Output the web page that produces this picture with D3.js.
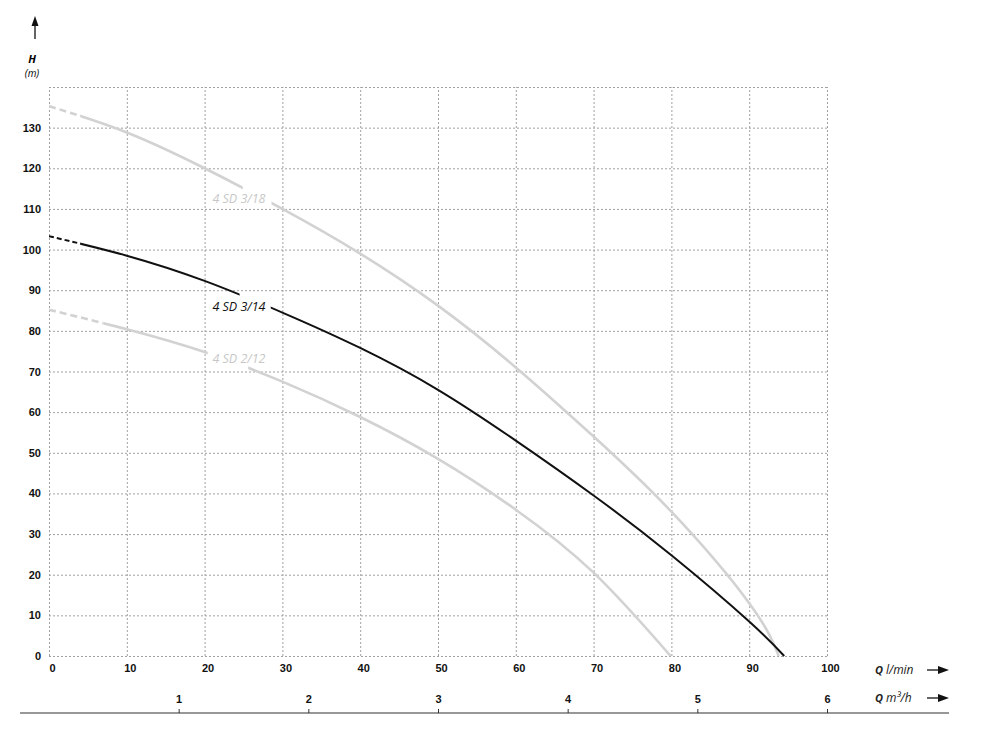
<!DOCTYPE html>
<html>
<head>
<meta charset="utf-8">
<script src="https://cdn.jsdelivr.net/npm/d3@7"></script>
<style>
  body { margin: 0; background: #fff; }
  svg { display: block; font-family: "Open Sans", sans-serif; }
  .grid line { stroke: #a0a0a0; stroke-dasharray: 2,2; }
  .grid .domain { display: none; }
  .lbl text { font-weight: bold; font-size: 11px; fill: #111; }
  .lbl .domain { display: none; }
</style>
</head>
<body>
<div class="chart-container"></div>
<script>
var qAxisTicks = [0, 10, 20, 30, 40, 50, 60, 70, 80, 90, 100];
var hAxisTicks = [0, 10, 20, 30, 40, 50, 60, 70, 80, 90, 100, 110, 120, 130];
var m3hTicks = [1, 2, 3, 4, 5, 6];

var q318 = [0, 10, 20, 30, 40, 50, 60, 70, 80, 90, 93.8];
var h318 = [135.3, 128.8, 120, 110, 99, 86.2, 71, 54, 35.5, 13, 0];

var q314 = [0, 10, 20, 30, 40, 50, 60, 70, 80, 90, 94.5];
var h314 = [103.3, 98.5, 92.3, 84.5, 75.8, 65.5, 53, 39.5, 24.8, 8.5, 0];

var q212 = [0, 10, 20, 30, 40, 50, 60, 70, 79.9];
var h212 = [85.2, 80.4, 74.8, 67.5, 58.8, 48.5, 36, 20.5, 0];

var seriesNames = ["4 SD 3/18", "4 SD 3/14", "4 SD 2/12"];

var margin = {top: 87, left: 49},
    width = 778,
    height = 569;

var x = d3.scaleLinear().domain([0, 100]).range([0, width]),
    y = d3.scaleLinear().domain([0, 140]).range([height, 0]),
    xm3 = d3.scaleLinear().domain([0, 6]).range([0, width]);

var svg = d3.select(".chart-container").append("svg")
    .attr("width", 983)
    .attr("height", 732);

var focus = svg.append("g")
    .attr("transform", "translate(" + margin.left + "," + margin.top + ")");

// dotted grid, including the frame
focus.append("g")
    .attr("class", "grid")
    .attr("transform", "translate(0," + height + ")")
    .call(d3.axisBottom(x).tickValues(qAxisTicks).tickSize(-height).tickFormat(""));
focus.append("g")
    .attr("class", "grid")
    .call(d3.axisLeft(y).tickValues(d3.range(0, 150, 10)).tickSize(-width).tickFormat(""));

focus.append("g")
    .attr("class", "lbl")
    .call(d3.axisLeft(y).tickValues(hAxisTicks).tickSize(0).tickPadding(8));
focus.append("g")
    .attr("class", "lbl")
    .attr("transform", "translate(3," + height + ")")
    .call(d3.axisBottom(x).tickValues(qAxisTicks).tickSize(0).tickPadding(8));

// m3/h axis
var m3 = svg.append("g")
    .attr("class", "lbl")
    .attr("transform", "translate(" + margin.left + ",713)")
    .call(d3.axisTop(xm3).tickValues(m3hTicks).tickFormat(d3.format("d")).tickSize(4).tickPadding(6));
m3.selectAll(".tick line").attr("stroke", "#333");
svg.append("line")
    .attr("x1", 20).attr("x2", 949)
    .attr("y1", 713).attr("y2", 713)
    .attr("stroke", "#333").attr("stroke-width", 1.2);

// curves
var curves = [
  {name: seriesNames[0], q: q318, h: h318, color: "#d2d2d2", w: 2.6, dashTo: 4, gap: [24.9, 28.6]},
  {name: seriesNames[1], q: q314, h: h314, color: "#111", w: 2, dashTo: 4, gap: [24.5, 28.5]},
  {name: seriesNames[2], q: q212, h: h212, color: "#d2d2d2", w: 2.6, dashTo: 7, gap: [20.4, 25.6]}
];
// label anchors (q, H at baseline)
var labelPos = [[21, 111.5], [21, 84.9], [21, 72.1]];

var line = d3.line()
    .x(function(d) { return x(d[0]); })
    .y(function(d) { return y(d[1]); })
    .curve(d3.curveNatural);

var defs = svg.append("defs");
function clipRange(id, a, b) {
    defs.append("clipPath").attr("id", id)
      .append("rect")
        .attr("x", x(a)).attr("width", x(b) - x(a))
        .attr("y", -20).attr("height", height + 40);
    return "url(#" + id + ")";
}

curves.forEach(function(c, i) {
    var pts = c.q.map(function(q, j) { return [q, c.h[j]]; });
    var g = focus.append("g").attr("class", "curve");
    var parts = [
      [0, c.dashTo, true],
      [c.dashTo, c.gap[0], false],
      [c.gap[1], 100, false]
    ];
    parts.forEach(function(p, k) {
        g.append("path")
            .attr("d", line(pts))
            .attr("fill", "none")
            .attr("stroke", c.color)
            .attr("stroke-width", c.w)
            .attr("stroke-dasharray", p[2] ? (i == 1 ? "5,3" : "7,4") : null)
            .attr("clip-path", clipRange("c" + i + "_" + k, p[0], p[1]));
    });
    focus.append("text")
        .attr("x", x(labelPos[i][0]))
        .attr("y", y(labelPos[i][1]))
        .attr("font-size", 12.5)
        .attr("font-style", "italic")
        .attr("fill", i == 1 ? "#111" : "#c8c8c8")
        .text(c.name);
});

// axis titles
function arrow(x1, y1, x2, y2) {
    svg.append("line")
        .attr("x1", x1).attr("y1", y1).attr("x2", x2).attr("y2", y2)
        .attr("stroke", "#111").attr("stroke-width", 1.3);
}
arrow(35, 39, 35, 24);
svg.append("path").attr("d", "M35,16 L31.5,26 L38.5,26 Z").attr("fill", "#111");
svg.append("text").attr("x", 32).attr("y", 63)
    .attr("text-anchor", "middle").attr("font-size", 11)
    .attr("font-weight", "bold").attr("font-style", "italic").text("H");
svg.append("text").attr("x", 32).attr("y", 77)
    .attr("text-anchor", "middle").attr("font-size", 10)
    .attr("font-style", "italic").text("(m)");

[[674, "l/min"], [702, "m³/h"]].forEach(function(r) {
    var t = svg.append("text").attr("x", 875).attr("y", r[0])
        .attr("font-size", 12).attr("font-style", "italic").attr("fill", "#222");
    t.append("tspan").attr("font-weight", "bold").attr("font-size", 11).text("Q ");
    t.append("tspan").text(r[1]);
    arrow(927, r[0] - 4, 940, r[0] - 4);
    svg.append("path")
        .attr("d", "M949," + (r[0] - 4) + " L938," + (r[0] - 8) + " L938," + r[0] + " Z")
        .attr("fill", "#111");
});
</script>
</body>
</html>
